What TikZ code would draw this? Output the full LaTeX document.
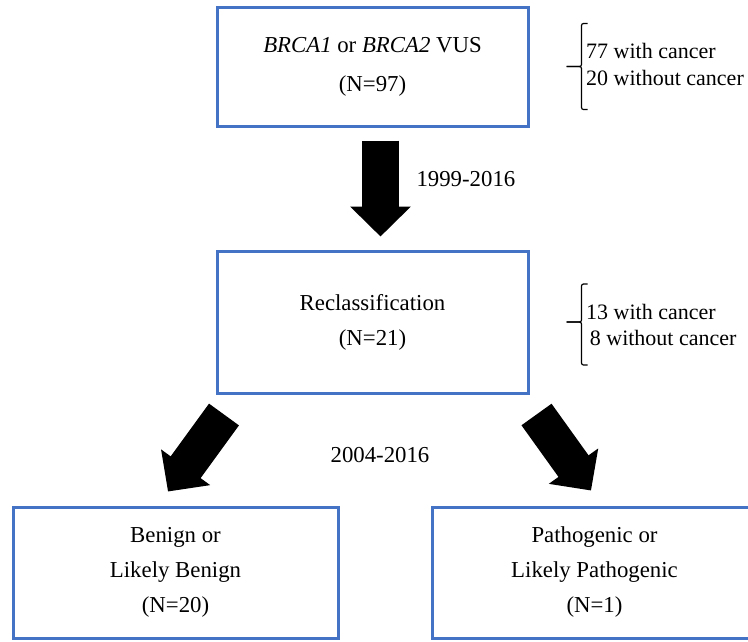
\documentclass[tikz,border=0pt]{standalone}
\usepackage{fontspec}
\setmainfont{Liberation Serif}
\usetikzlibrary{arrows.meta}

\definecolor{boxblue}{HTML}{4472C4}

\begin{document}
\begin{tikzpicture}[x=1pt, y=-1pt, font=\fontsize{22.8}{35}\selectfont]
  \tikzset{Box/.style = {
  draw = boxblue,
  line width = 3pt,
  align = center,
  inner sep = 0pt,
  minimum width = 311pt,
  minimum height = 142pt}}
  \tikzset{FatArrow/.style = {
  line width = 37pt,
  -{Triangle[length=30pt, width=59pt]}}}
  \tikzset{Brace/.style = {
  line width = 1.2pt,
  rounded corners = 2pt}}
  \useasboundingbox (0,0) rectangle (748,641);
  \clip (0,0) rectangle (748,641);
  % boxes
  \node[Box, minimum height=119pt] (vus) at (372.5,66.5)
    {\textit{BRCA1} or \textit{BRCA2} VUS\\[4pt] (N=97)};
  \node[Box] (recl) at (372.5,322) {Reclassification\\ (N=21)};
  \node[Box, minimum width=325pt, minimum height=131pt] (benign) at (175.5,572.5)
    {Benign or\\ Likely Benign\\ (N=20)};
  \node[Box, minimum width=325pt, minimum height=131pt] (patho) at (594.5,572.5)
    {Pathogenic or\\ Likely Pathogenic\\ (N=1)};
  % arrows
  \draw[FatArrow] ([xshift=8pt, yshift=-13pt]vus.south)
    -- ([xshift=8pt, yshift=13pt]recl.north);
  \draw[FatArrow] ([xshift=8.5pt, yshift=-20pt]recl.south west)
    -- ([xshift=-7.5pt, yshift=14pt]benign.north);
  \draw[FatArrow] ([xshift=7pt, yshift=-20pt]recl.south east)
    -- ([xshift=-3.5pt, yshift=15pt]patho.north);
  \node[anchor=west] (yrsA) at (413,179) {1999-2016};
  \node (yrsB) at (380,455) {2004-2016};
  % braces
  \coordinate (bA) at ([xshift=37pt]vus.east);
  \coordinate (bB) at ([xshift=37pt]recl.east);
  \draw[Brace] (bA) -- ++(15,0) -- ++(0,-43) -- ++(6,0);
  \draw[Brace] (bA) -- ++(15,0) -- ++(0,43) -- ++(6,0);
  \draw[Brace] (bB) -- ++(15,0) -- ++(0,-38) -- ++(6,0);
  \draw[Brace] (bB) -- ++(15,0) -- ++(0,43) -- ++(6,0);
  \node[anchor=west, align=left, inner sep=2pt, font=\fontsize{22}{27}\selectfont] (cntA)
    at (584,64) {77 with cancer\\20 without cancer};
  \node[anchor=west, align=left, inner sep=2pt, font=\fontsize{22}{26}\selectfont] (cntB)
    at (584,325) {13 with cancer\\ \,8 without cancer};
\end{tikzpicture}
\end{document}
